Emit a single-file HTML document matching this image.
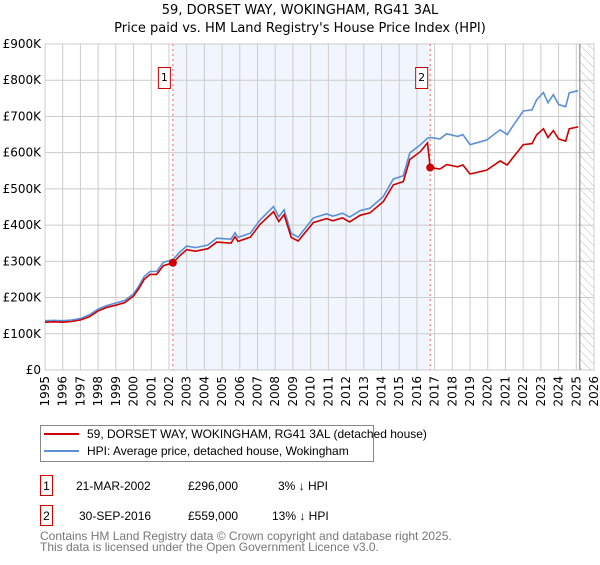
<!DOCTYPE html>
<html><head><meta charset="utf-8"><style>
body{margin:0;width:600px;height:560px;background:#fff;font-family:"Liberation Sans","DejaVu Sans",sans-serif;overflow:hidden}
svg text{font-family:"DejaVu Sans","Liberation Sans",sans-serif}
svg text.lib{font-family:"Liberation Sans","DejaVu Sans",sans-serif}
</style></head><body>
<svg id="chart" width="600" height="560" xmlns="http://www.w3.org/2000/svg">
<text x="300" y="14" text-anchor="middle" font-size="13">59, DORSET WAY, WOKINGHAM, RG41 3AL</text>
<text x="300" y="32" text-anchor="middle" font-size="13">Price paid vs. HM Land Registry's House Price Index (HPI)</text>
<defs><pattern id="hatch" width="6" height="6" patternUnits="userSpaceOnUse" patternTransform="rotate(-45)"><line x1="0" y1="0" x2="0" y2="6" stroke="#bbb" stroke-width="1"/></pattern></defs>
<g id="grid"></g><g id="marks"></g><g id="axes"></g>
<g>
<rect x="40.5" y="425.5" width="333" height="36" fill="#fff" stroke="#888"/>
<line x1="44" y1="434" x2="79" y2="434" stroke="#cc0000" stroke-width="2"/>
<text class="lib" x="87" y="438" font-size="12">59, DORSET WAY, WOKINGHAM, RG41 3AL (detached house)</text>
<line x1="44" y1="451" x2="79" y2="451" stroke="#5b8fd6" stroke-width="2"/>
<text class="lib" x="87" y="455" font-size="12">HPI: Average price, detached house, Wokingham</text>
</g>
<g font-size="12">
<rect x="40.5" y="475.5" width="12" height="20" fill="#fff" stroke="#cc0000"/><text class="lib" x="46.5" y="490" text-anchor="middle">1</text>
<text class="lib" x="76" y="490">21-MAR-2002</text><text class="lib" x="188" y="490">£296,000</text><text class="lib" x="278" y="490">3% ↓ HPI</text>
<rect x="40.5" y="505.5" width="12" height="20" fill="#fff" stroke="#cc0000"/><text class="lib" x="46.5" y="520" text-anchor="middle">2</text>
<text class="lib" x="79" y="520">30-SEP-2016</text><text class="lib" x="188" y="520">£559,000</text><text class="lib" x="272" y="520">13% ↓ HPI</text>
</g>
<text class="lib" x="40" y="540" font-size="12" fill="#777">Contains HM Land Registry data © Crown copyright and database right 2025.</text>
<text class="lib" x="40" y="551" font-size="12" fill="#777">This data is licensed under the Open Government Licence v3.0.</text>
</svg>
<script>
const years=[1995.0,1995.5,1996.0,1996.5,1997.0,1997.5,1998.0,1998.5,1999.0,1999.5,2000.0,2000.3,2000.6,2000.93,2001.3,2001.68,2002.22,2002.6,2003.0,2003.5,2004.2,2004.7,2005.5,2005.73,2005.9,2006.6,2007.14,2007.9,2008.2,2008.5,2008.9,2009.3,2010.15,2010.9,2011.25,2011.8,2012.2,2012.8,2013.35,2014.1,2014.67,2015.23,2015.6,2016.2,2016.6,2016.75,2017.3,2017.68,2018.3,2018.6,2019.0,2019.94,2020.7,2021.1,2021.4,2022.0,2022.5,2022.76,2023.14,2023.4,2023.7,2024.0,2024.4,2024.6,2025.1];
const hpiValues=[136,137,136,138,142,152,168,178,185,192,210,232,258,272,272,297,305,325,342,338,345,364,361,379,366,378,414,451,423,442,377,367,420,431,425,433,422,440,447,479,527,536,599,622,640,642,638,652,645,650,622,635,663,650,672,715,718,746,766,738,760,733,727,765,771];
const propertyValues=[132,133,132,134,138,147,163,173,179,186,204,225,250,264,264,288,296,315,332,328,335,353,350,368,355,367,402,437,410,429,366,356,407,418,412,420,409,427,434,465,511,520,581,603,627,559,555,567,561,566,541,552,577,566,585,622,625,649,666,642,661,638,632,666,671];
const saleYears=[2002.22,2016.75];
const salePrices=[296,559];
const saleLabels=["1","2"];
const yTicks=[0,100,200,300,400,500,600,700,800,900];
const yTickLabels=["£0","£100K","£200K","£300K","£400K","£500K","£600K","£700K","£800K","£900K"];
const xTicks=[1995,1996,1997,1998,1999,2000,2001,2002,2003,2004,2005,2006,2007,2008,2009,2010,2011,2012,2013,2014,2015,2016,2017,2018,2019,2020,2021,2022,2023,2024,2025,2026];
const dataEnd=2025.2;
const L=45,R=594,T=44,B=370;
const X=y=>L+(y-1995)/(2026-1995)*(R-L);
const Y=v=>B-v/900*(B-T);
const NS="http://www.w3.org/2000/svg";
function mk(parent,tag,attrs){const e=document.createElementNS(NS,tag);for(const k in attrs)e.setAttribute(k,attrs[k]);document.getElementById(parent).appendChild(e);return e;}
let sh=mk('grid','rect',{x:X(saleYears[0]),y:T,width:X(saleYears[1])-X(saleYears[0]),height:B-T,fill:'#eef3fc',opacity:0.8});


let ht=mk('grid','rect',{x:X(dataEnd),y:T,width:R-X(dataEnd),height:B-T,fill:'url(#hatch)'});


xTicks.forEach(t=>{let g=mk('grid','line',{x1:X(t),x2:X(t),y1:T,y2:B,stroke:'#ccc','stroke-width':1});


let tx=mk('axes','text',{x:0,y:0,'font-size':12,'text-anchor':'end',transform:`translate(${X(t)+4},${B+6}) rotate(-90)`});
tx.textContent=t;

});
yTicks.forEach((t,i)=>{let g=mk('grid','line',{x1:L,x2:R,y1:Y(t),y2:Y(t),stroke:'#ccc','stroke-width':1});


let tx=mk('axes','text',{x:L-4,y:Y(t)+4,'font-size':12,'text-anchor':'end'});
tx.textContent=yTickLabels[i];

});
let bd=mk('grid','rect',{x:L,y:T,width:R-L,height:B-T,fill:'none',stroke:'#ccc'});


let el=mk('grid','line',{x1:X(dataEnd),x2:X(dataEnd),y1:T,y2:B,stroke:'#777','stroke-width':1});


saleYears.forEach((s,i)=>{let v=mk('grid','line',{x1:X(s),x2:X(s),y1:T,y2:B,stroke:'#e66','stroke-width':1,'stroke-dasharray':'2,3'});

});
const pts=a=>years.map((y,i)=>X(y).toFixed(1)+','+Y(a[i]).toFixed(1)).join(' ');
let hl=mk('marks','polyline',{points:pts(hpiValues),fill:'none',stroke:'#5b8fd6','stroke-width':1.6});


let pl=mk('marks','polyline',{points:pts(propertyValues),fill:'none',stroke:'#cc0000','stroke-width':1.6});


saleYears.forEach((s,i)=>{let c=mk('marks','circle',{cx:X(s),cy:Y(salePrices[i]),r:4,fill:'#cc0000'});


let bx=X(s)-14;
let r=mk('marks','rect',{x:bx-0.5,y:67.5,width:12,height:21,fill:'#fff',stroke:'#cc0000'});


let t=mk('marks','text',{x:bx+5.5,y:81,'font-size':11,'text-anchor':'middle'});
t.textContent=saleLabels[i];

});
</script>
</body></html>
